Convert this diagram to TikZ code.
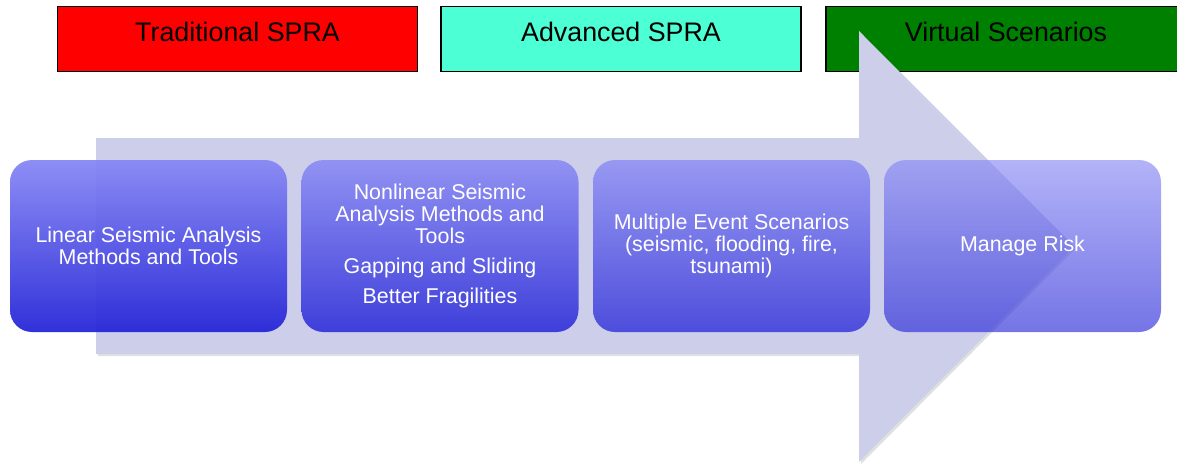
\documentclass[tikz,border=0pt]{standalone}
\usepackage{fontspec}
\setmainfont{Liberation Sans}
\definecolor{arrowc}{RGB}{204,206,234}
\definecolor{cyanbox}{RGB}{77,255,212}
\definecolor{greenbox}{RGB}{0,128,0}
\definecolor{btop}{RGB}{136,136,245}
\definecolor{bbot}{RGB}{38,38,216}
\begin{document}
\begin{tikzpicture}[x=1pt,y=-1pt,
  topbox/.style={draw=black, line width=1.8pt, minimum width=360pt, minimum height=65pt, inner sep=0pt},
  toptext/.style={font=\fontsize{26.8}{30}\selectfont, text=black, inner sep=0pt},
  stage/.style={rounded corners=22pt, top color=btop, bottom color=bbot, minimum width=277pt,
    minimum height=172pt, inner sep=0pt, text=white, text opacity=1, align=center,
    font=\fontsize{21.4}{22}\selectfont}
]
\useasboundingbox (0,0) rectangle (1177,463);
\clip (0,0) rectangle (1177,463);
% top boxes
\node[topbox, fill=red] (t1) at (237.5,39) {};
\node[toptext] (t1l) at (237.5,32) {Traditional SPRA};
\node[topbox, fill=cyanbox] (t2) at (621,39) {};
\node[toptext] (t2l) at (621,32) {Advanced SPRA};
\node[topbox, fill=greenbox] (t3) at (1006,39) {};
\node[toptext] (t3l) at (1006,32) {Virtual Scenarios};
% big arrow
\fill[black, opacity=0.12] (98,140) -- (861,140) -- (861,33) -- (1076,248) -- (861,464) -- (861,356) -- (98,356) -- cycle;
\fill[arrowc] (96,138) -- (859,138) -- (859,31) -- (1074,246.5) -- (859,462) -- (859,354) -- (96,354) -- cycle;
% stage boxes
\node[stage, fill opacity=0.95] (s1) at (148.5,246) {Linear Seismic Analysis\\Methods and Tools};
\node[stage, fill opacity=0.85] (s2) at (440,246) {Nonlinear Seismic\\Analysis Methods and\\Tools\\[8pt]Gapping and Sliding\\[8pt]Better Fragilities};
\node[stage, fill opacity=0.76] (s3) at (731.5,246) {Multiple Event Scenarios\\(seismic, flooding, fire,\\tsunami)};
\node[stage, fill opacity=0.64] (s4) at (1022.5,246) {Manage Risk};
\end{tikzpicture}
\end{document}
